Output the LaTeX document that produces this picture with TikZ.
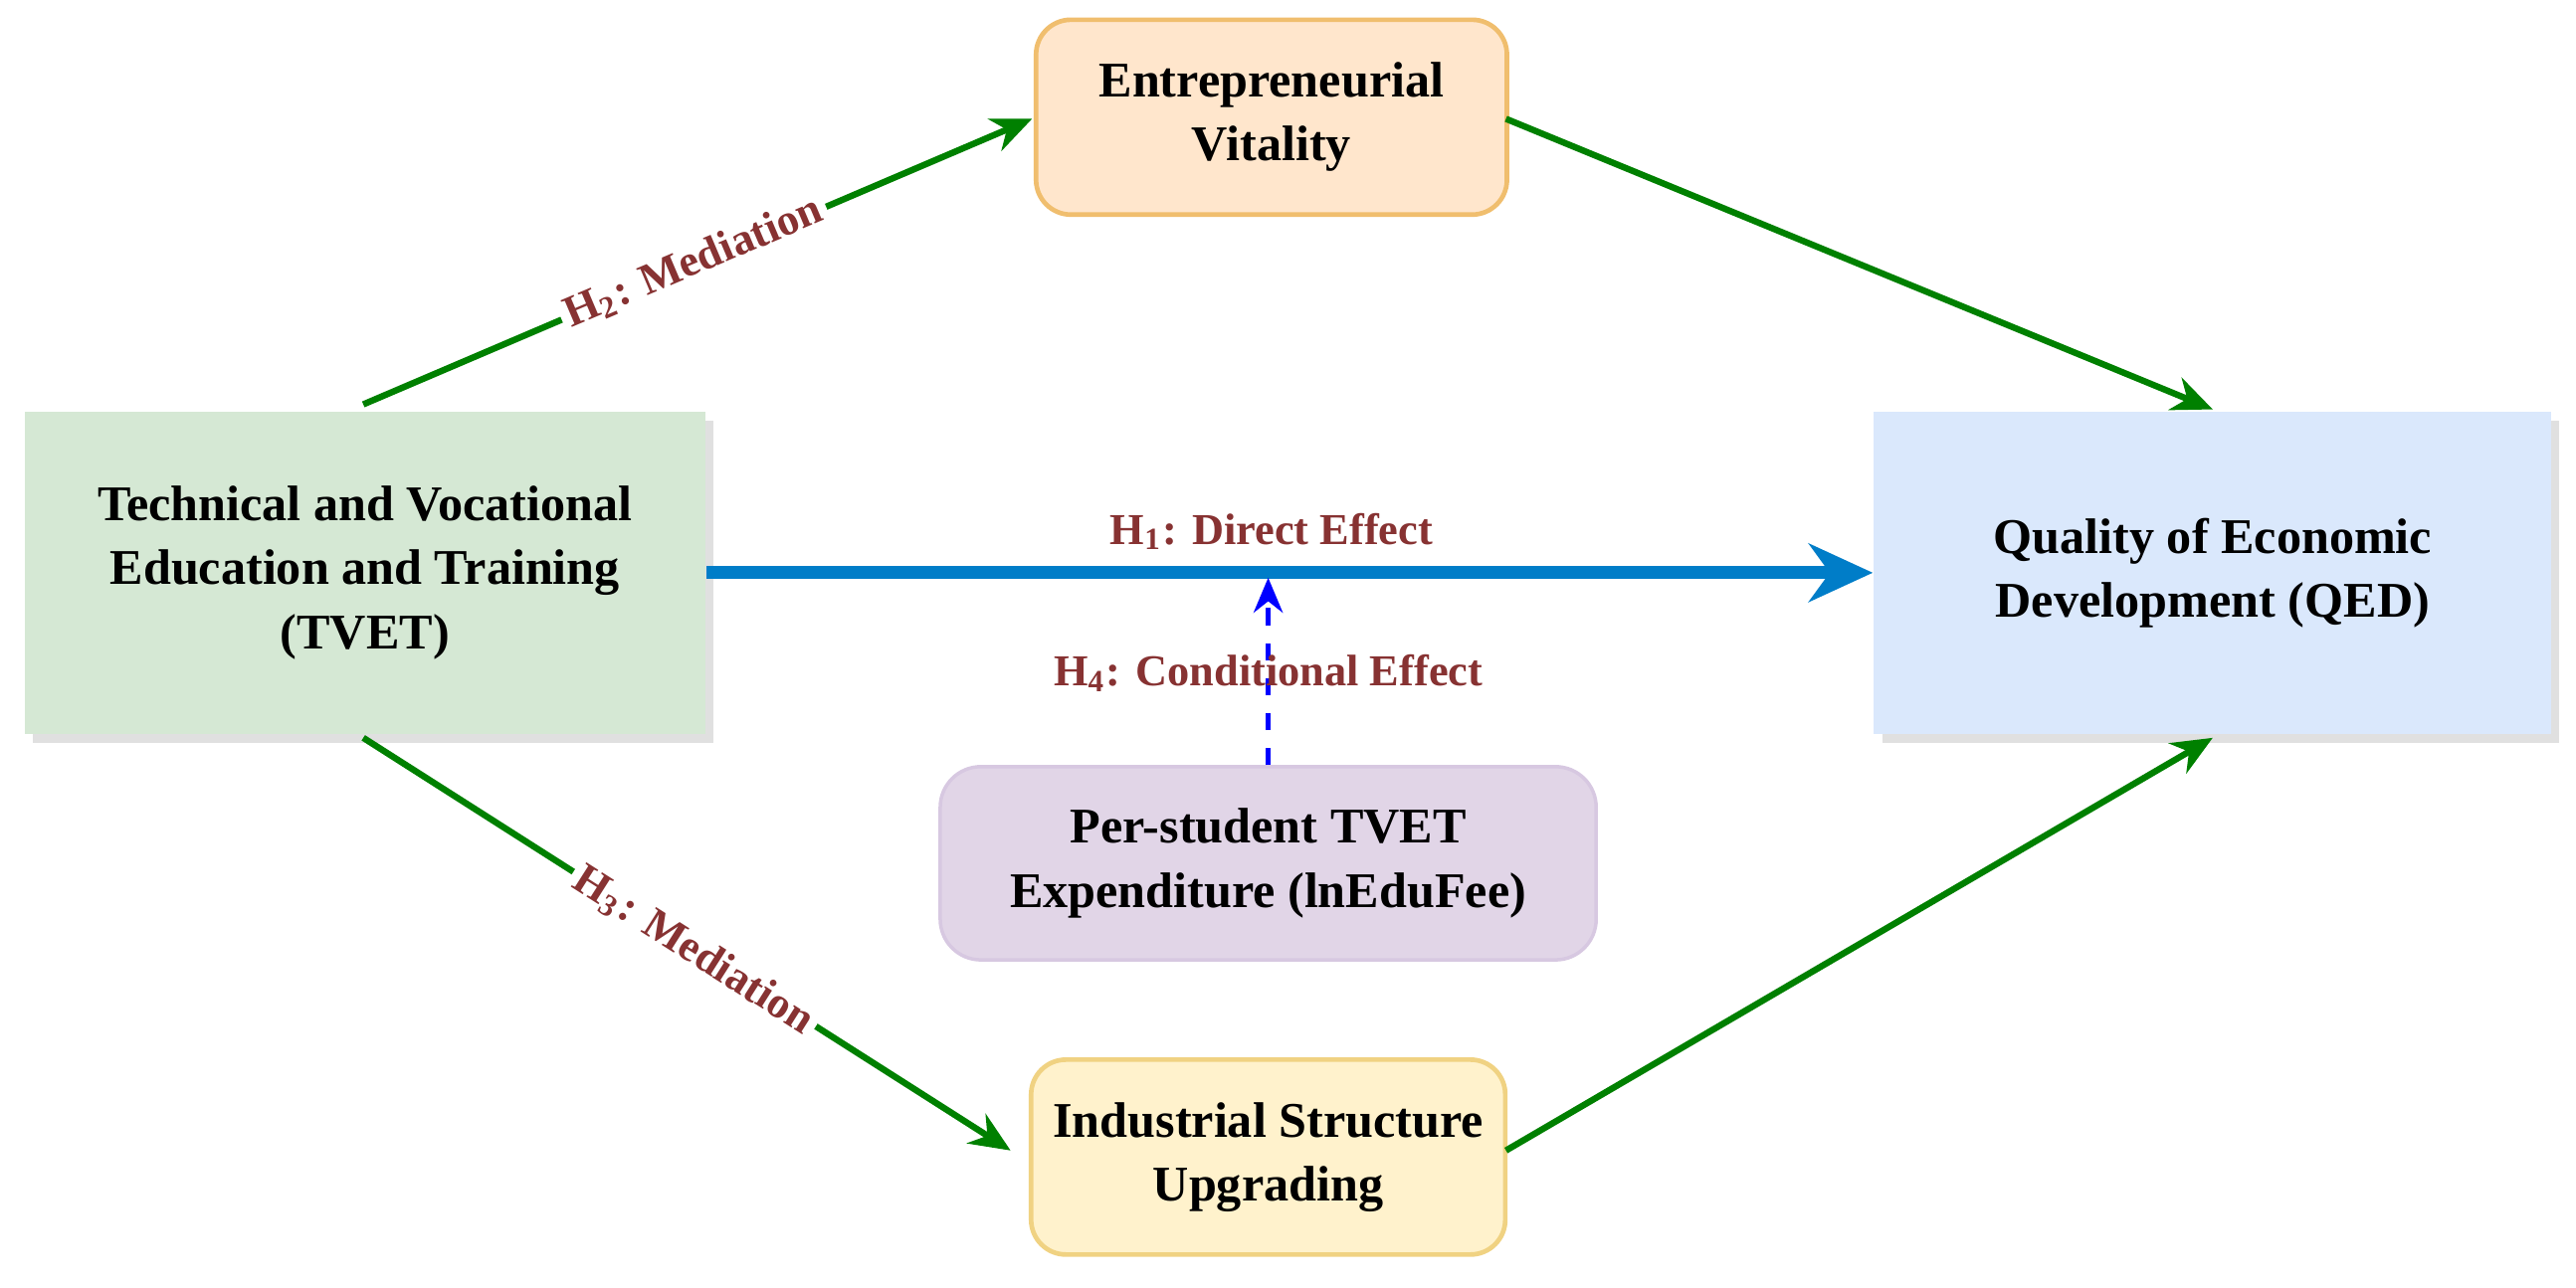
\documentclass[tikz,border=0pt]{standalone}
\usepackage{fontspec}
\setmainfont{Liberation Serif}
\usetikzlibrary{arrows.meta}
\definecolor{labred}{RGB}{135,50,50}
\begin{document}
\begin{tikzpicture}[x=0.01cm,y=-0.01cm,
  box/.style={align=center,font=\fontsize{8.6}{11}\selectfont\bfseries,inner sep=0pt},
  garrow/.style={draw=green!50!black,line width=1.1pt,-{Stealth[length=7pt,width=6pt]}},
  lab/.style={text=labred,font=\fontsize{7.6}{9}\selectfont\bfseries,inner sep=1pt}]
\useasboundingbox (0,0) rectangle (1560,780);
\fill[black!12] (20,255) rectangle (432,450);
\node[box,fill={rgb,255:red,213;green,232;blue,212},minimum width=4.12cm,minimum height=1.95cm] (tvet) at (221,347) {Technical and Vocational\\Education and Training\\(TVET)};
\fill[black!12] (1140,255) rectangle (1550,450);
\node[box,fill={rgb,255:red,218;green,232;blue,252},minimum width=4.10cm,minimum height=1.95cm] (qed) at (1340,347) {Quality of Economic\\Development (QED)};
\node[box,fill={rgb,255:red,255;green,230;blue,204},draw={rgb,255:red,240;green,190;blue,110},line width=0.8pt,rounded corners=6pt,minimum width=2.85cm,minimum height=1.18cm] (ev) at (770,71) {Entrepreneurial\\Vitality};
\node[box,fill={rgb,255:red,225;green,213;blue,231},draw={rgb,255:red,215;green,200;blue,225},line width=0.6pt,rounded corners=7pt,minimum width=3.97cm,minimum height=1.17cm] (pe) at (768,523) {Per-student TVET\\Expenditure (lnEduFee)};
\node[box,fill={rgb,255:red,255;green,242;blue,204},draw={rgb,255:red,240;green,210;blue,130},line width=0.8pt,rounded corners=6pt,minimum width=2.87cm,minimum height=1.18cm] (isu) at (768,701) {Industrial Structure\\Upgrading};
\coordinate (a1) at (220,245); \coordinate (a2) at (625,72);
\coordinate (b1) at (912,72); \coordinate (b2) at (1340,248);
\coordinate (c1) at (220,447); \coordinate (c2) at (612,697);
\coordinate (d1) at (912,697); \coordinate (d2) at (1340,447);
\coordinate (m) at (768,350);
\draw[garrow] (a1) -- (a2);
\draw[garrow] (b1) -- (b2);
\draw[garrow] (c1) -- (c2);
\draw[garrow] (d1) -- (d2);
\draw[draw={rgb,255:red,0;green,125;blue,200},line width=2.2pt,-{Stealth[length=11pt,width=10pt]}] (tvet.east) -- (qed.west);
\draw[draw=blue,line width=0.9pt,dashed,-{Stealth[length=6pt,width=5pt]}] (pe.north) -- (m);
\node[lab,fill=white,rotate=23] (l2) at (420,159) {H\textsubscript{2}: Mediation};
\node[lab,fill=white,rotate=-32.5] (l3) at (420,576) {H\textsubscript{3}: Mediation};
\node[lab] (l1) at (770,322) {H\textsubscript{1}: Direct Effect};
\node[lab] (l4) at (768,408) {H\textsubscript{4}: Conditional Effect};
\end{tikzpicture}
\end{document}
